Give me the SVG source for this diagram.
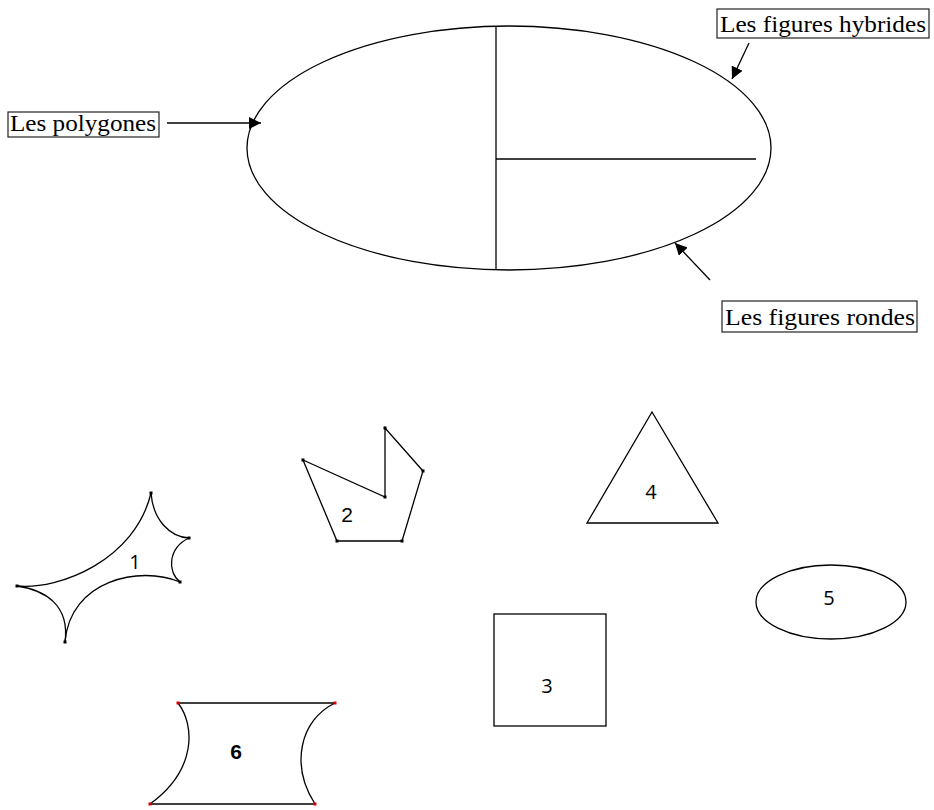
<svg xmlns="http://www.w3.org/2000/svg" width="934" height="810" viewBox="0 0 934 810">
<style>
.ln{fill:none;stroke:#000;stroke-width:1.3}
.box{fill:#fff;stroke:#222;stroke-width:1.2}
.lbl{font-family:"Liberation Serif","Noto Serif",serif;font-size:24px;fill:#000}
.num{font-family:"Open Sans","Liberation Sans",sans-serif;font-size:20px;fill:#000;text-anchor:middle}
.numb{font-family:"Liberation Sans",Arial,sans-serif;font-size:21px;font-weight:bold;fill:#000;text-anchor:middle}
.dot{fill:#000}
.rdot{fill:#d00}
</style>
<defs>
<marker id="ah" viewBox="0 0 10 10" refX="10" refY="5" markerWidth="12" markerHeight="12" markerUnits="userSpaceOnUse" orient="auto">
<path d="M0,0 L10,5 L0,10 z" fill="#000"/>
</marker>
</defs>
<rect width="934" height="810" fill="#fff"/>
<g id="main-ellipse">
<ellipse class="ln" cx="509" cy="148" rx="262" ry="122"/>
<line class="ln" x1="496" y1="26" x2="496" y2="269"/>
<line class="ln" x1="496" y1="159" x2="756" y2="159"/>
</g>
<g id="label-polygones">
<rect class="box" x="8" y="112" width="151" height="25"/>
<text class="lbl" x="10" y="131" textLength="146" lengthAdjust="spacingAndGlyphs">Les polygones</text>
</g>
<g id="label-hybrides">
<rect class="box" x="717" y="9" width="212" height="29"/>
<text class="lbl" x="720" y="32" textLength="206" lengthAdjust="spacingAndGlyphs">Les figures hybrides</text>
</g>
<g id="label-rondes">
<rect class="box" x="722" y="301" width="195" height="31"/>
<text class="lbl" x="725" y="325" textLength="190" lengthAdjust="spacingAndGlyphs">Les figures rondes</text>
</g>
<g id="connectors">
<line class="ln" x1="167" y1="123" x2="261" y2="123" marker-end="url(#ah)"/>
<line class="ln" x1="749" y1="43" x2="732" y2="79" marker-end="url(#ah)"/>
<line class="ln" x1="710" y1="280" x2="675" y2="243" marker-end="url(#ah)"/>
</g>
<g id="shape-1">
<path class="ln" d="M17,586 C60,590 135,560 151,493"/>
<path class="ln" d="M151,493 C153,520 170,537 189,538"/>
<path class="ln" d="M189,538 C168,548 167,572 180,582"/>
<path class="ln" d="M180,582 C140,565 70,580 65,642"/>
<path class="ln" d="M17,586 C45,590 70,605 65,642"/>
<rect class="dot" x="149.5" y="491.5" width="3" height="3"/>
<rect class="dot" x="187.5" y="536.5" width="3" height="3"/>
<rect class="dot" x="178.5" y="580.5" width="3" height="3"/>
<rect class="dot" x="15.5" y="584.5" width="3" height="3"/>
<rect class="dot" x="63.5" y="640.5" width="3" height="3"/>
<text class="num" x="135" y="569">1</text>
</g>
<g id="shape-2">
<polygon class="ln" points="303,460 385,497 385,428 423,471 402,541 337,541"/>
<rect class="dot" x="301.5" y="458.5" width="3" height="3"/>
<rect class="dot" x="383.5" y="495.5" width="3" height="3"/>
<rect class="dot" x="383.5" y="426.5" width="3" height="3"/>
<rect class="dot" x="421.5" y="469.5" width="3" height="3"/>
<rect class="dot" x="400.5" y="539.5" width="3" height="3"/>
<rect class="dot" x="335.5" y="539.5" width="3" height="3"/>
<text class="numb" x="347" y="522" style="font-weight:normal">2</text>
</g>
<g id="shape-3">
<rect class="ln" x="494" y="614" width="112" height="112"/>
<text class="num" x="547" y="693">3</text>
</g>
<g id="shape-4">
<polygon class="ln" points="652,412 718,523 587,523"/>
<text class="num" x="651" y="499">4</text>
</g>
<g id="shape-5">
<ellipse class="ln" cx="831" cy="602" rx="75" ry="37"/>
<text class="num" x="829" y="605">5</text>
</g>
<g id="shape-6">
<line class="ln" x1="178" y1="703" x2="335" y2="703"/>
<line class="ln" x1="150" y1="804" x2="315" y2="804"/>
<path class="ln" d="M178,703 C195,725 197,770 150,804"/>
<path class="ln" d="M335,703 C300,720 290,765 315,804"/>
<rect class="rdot" x="176.5" y="701.5" width="3" height="3"/>
<rect class="rdot" x="333.5" y="701.5" width="3" height="3"/>
<rect class="rdot" x="148.5" y="802.5" width="3" height="3"/>
<rect class="rdot" x="313.5" y="802.5" width="3" height="3"/>
<text class="numb" x="236" y="759">6</text>
</g>
</svg>
